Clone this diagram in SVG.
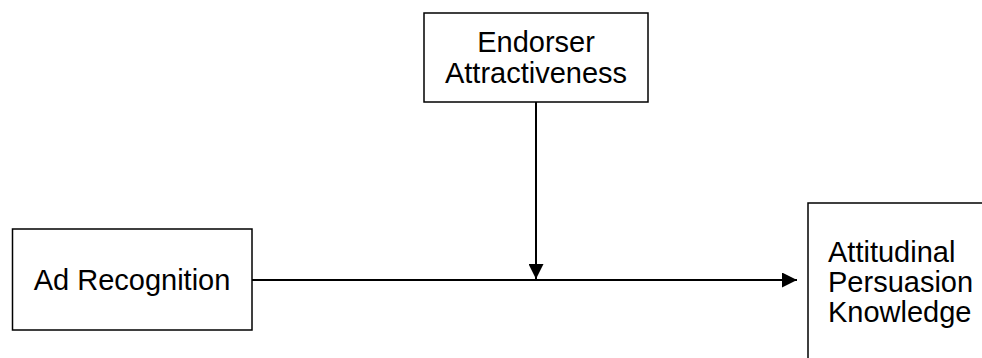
<svg xmlns="http://www.w3.org/2000/svg" width="982" height="358" viewBox="0 0 982 358">
<style>
.box{fill:#fff;stroke:#000;stroke-width:1.5}
.t{font-family:"Liberation Sans",Arial,sans-serif;font-size:29px;fill:#000}
.c{stroke:#000;stroke-width:2;fill:none}
</style>
<defs>
<marker id="ah" viewBox="0 0 15 15" refX="15" refY="7.5" markerWidth="15" markerHeight="15" markerUnits="userSpaceOnUse" orient="auto">
<path d="M0,0 L15,7.5 L0,15 Z" fill="#000"/>
</marker>
</defs>
<rect width="982" height="358" fill="#fff"/>
<g id="connectors">
<line class="c" x1="252" y1="280" x2="797" y2="280" marker-end="url(#ah)"/>
<line class="c" x1="536" y1="102" x2="536" y2="279" marker-end="url(#ah)"/>
</g>
<g id="endorser">
<rect class="box" x="424" y="13" width="224" height="89"/>
<text class="t" x="536" y="52" text-anchor="middle">Endorser</text>
<text class="t" x="536" y="83" text-anchor="middle">Attractiveness</text>
</g>
<g id="adrecognition">
<rect class="box" x="12.5" y="229" width="239.5" height="101"/>
<text class="t" x="132" y="290" text-anchor="middle">Ad Recognition</text>
</g>
<g id="attitudinal">
<rect class="box" x="808" y="203" width="190" height="170"/>
<text class="t" x="828" y="262">Attitudinal</text>
<text class="t" x="828" y="292">Persuasion</text>
<text class="t" x="828" y="322">Knowledge</text>
</g>
</svg>
